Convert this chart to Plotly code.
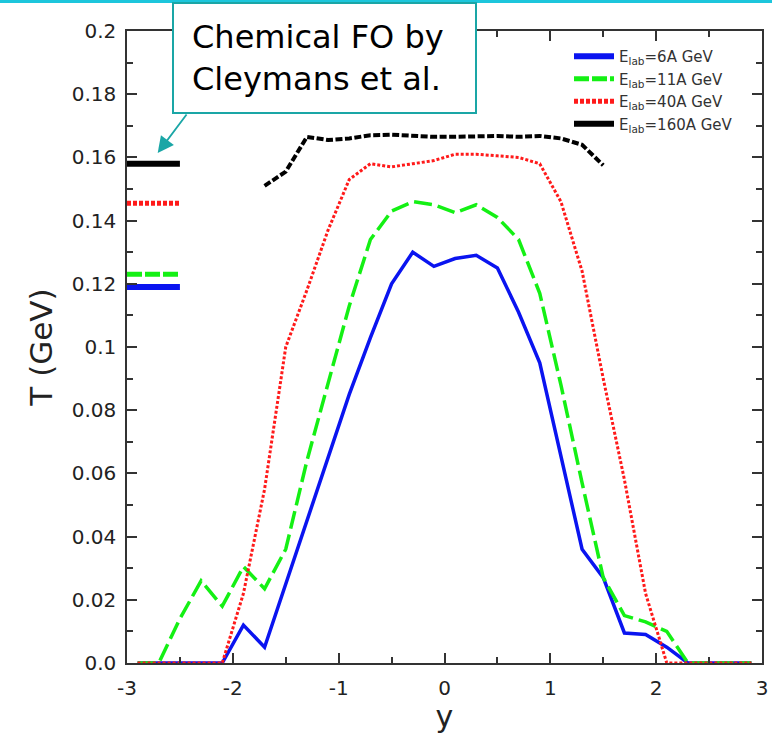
import plotly.graph_objects as go

# ---------------- data ----------------
y_grid = [-2.9, -2.7, -2.5, -2.3, -2.1, -1.9, -1.7, -1.5, -1.3, -1.1, -0.9, -0.7, -0.5, -0.3, -0.1,
          0.1, 0.3, 0.5, 0.7, 0.9, 1.1, 1.3, 1.5, 1.7, 1.9, 2.1, 2.3, 2.5, 2.7, 2.9]

T_6A = [0, 0, 0, 0, 0, 0.012, 0.005, 0.025, 0.045, 0.065, 0.085, 0.103, 0.120, 0.130, 0.1255,
        0.128, 0.129, 0.125, 0.111, 0.095, 0.066, 0.036, 0.027, 0.0095, 0.009, 0.005, 0, 0, 0, 0]

T_11A = [0, 0, 0.014, 0.026, 0.018, 0.0305, 0.0235, 0.036, 0.064, 0.088, 0.113, 0.134, 0.143, 0.146, 0.145,
         0.1425, 0.145, 0.141, 0.134, 0.117, 0.088, 0.057, 0.027, 0.015, 0.013, 0.010, 0, 0, 0, 0]

T_40A = [0, 0, 0, 0, 0, 0.022, 0.055, 0.100, 0.118, 0.137, 0.153, 0.158, 0.157, 0.158, 0.159,
         0.161, 0.161, 0.1605, 0.160, 0.158, 0.146, 0.124, 0.090, 0.058, 0.022, 0, 0, 0, 0, 0]

y_160A = [-1.7, -1.5, -1.3, -1.1, -0.9, -0.7, -0.5, -0.3, -0.1, 0.1, 0.3, 0.5, 0.7, 0.9, 1.1, 1.3, 1.5]
T_160A = [0.151, 0.1555, 0.1665, 0.1655, 0.166, 0.167, 0.1672, 0.1668, 0.1665, 0.1665, 0.1667, 0.1668,
          0.1665, 0.1668, 0.166, 0.164, 0.1575]

# chemical freeze-out (Cleymans et al.) marks
fo_y = [-3.0, -2.5]
fo_T = {"6A": 0.119, "11A": 0.123, "40A": 0.1455, "160A": 0.158}

legend_names = ["E<sub>lab</sub>=6A GeV", "E<sub>lab</sub>=11A GeV",
                "E<sub>lab</sub>=40A GeV", "E<sub>lab</sub>=160A GeV"]

x_ticks = [-3, -2, -1, 0, 1, 2, 3]
y_ticks = [0.0, 0.02, 0.04, 0.06, 0.08, 0.1, 0.12, 0.14, 0.16, 0.18, 0.2]
y_ticktext = ["0.0", "0.02", "0.04", "0.06", "0.08", "0.1", "0.12", "0.14", "0.16", "0.18", "0.2"]

# ---------------- layout geometry ----------------
W, H = 772, 734
L, R, T, B = 127, 10, 31, 71
PW, PH = W - L - R, H - T - B


def px_x(p):
    return (p - L) / PW


def px_y(p):
    return (H - B - p) / PH


BLUE, GREEN, RED, BLACK = "#0a14f0", "#14f014", "#ff1a1a", "#000000"
TEAL = "#1aa6a6"
CYAN = "#1cc6dc"

fig = go.Figure()

# curves (no legend)
fig.add_trace(go.Scatter(x=y_grid, y=T_6A, mode="lines", showlegend=False,
                         line=dict(color=BLUE, width=3.5)))
fig.add_trace(go.Scatter(x=y_grid, y=T_11A, mode="lines", showlegend=False,
                         line=dict(color=GREEN, width=3.5, dash="18px,6px")))
fig.add_trace(go.Scatter(x=y_grid, y=T_40A, mode="lines", showlegend=False,
                         line=dict(color=RED, width=3, dash="3px,2px")))
fig.add_trace(go.Scatter(x=y_160A, y=T_160A, mode="lines", showlegend=False,
                         line=dict(color=BLACK, width=4, dash="7px,2.5px")))

# freeze-out marks (carry the legend)
fig.add_trace(go.Scatter(x=fo_y, y=[fo_T["6A"]] * 2, mode="lines", name=legend_names[0],
                         line=dict(color=BLUE, width=6)))
fig.add_trace(go.Scatter(x=fo_y, y=[fo_T["11A"]] * 2, mode="lines", name=legend_names[1],
                         line=dict(color=GREEN, width=5, dash="15px,3px")))
fig.add_trace(go.Scatter(x=fo_y, y=[fo_T["40A"]] * 2, mode="lines", name=legend_names[2],
                         line=dict(color=RED, width=5, dash="4px,2px")))
fig.add_trace(go.Scatter(x=fo_y, y=[fo_T["160A"]] * 2, mode="lines", name=legend_names[3],
                         line=dict(color=BLACK, width=6)))

axis_common = dict(showline=True, linecolor="#333333", linewidth=1.5, mirror="allticks",
                   ticks="inside", ticklen=10, tickwidth=1.5, tickcolor="#333333",
                   showgrid=False, zeroline=False, automargin=False,
                   tickfont=dict(family="DejaVu Sans", size=20, color="#222222"))

fig.update_layout(
    width=W, height=H,
    margin=dict(l=L, r=R, t=T, b=B),
    paper_bgcolor="white", plot_bgcolor="white",
    xaxis=dict(range=[-3, 3], tickvals=x_ticks, ticktext=[str(v) for v in x_ticks],
               minor=dict(dtick=0.5, ticks="inside", ticklen=6, tickwidth=1.5, tickcolor="#333333"),
               title=dict(text="y", font=dict(family="DejaVu Sans", size=30, color="#222222"), standoff=8),
               ticklabelstandoff=6,
               **axis_common),
    yaxis=dict(range=[0, 0.2], tickvals=y_ticks, ticktext=y_ticktext,
               minor=dict(dtick=0.01, ticks="inside", ticklen=6, tickwidth=1.5, tickcolor="#333333"),
               title=dict(text="T (GeV)", font=dict(family="DejaVu Sans", size=31, color="#222222"), standoff=10),
               ticklabelstandoff=5,
               **axis_common),
    legend=dict(x=px_x(569), y=px_y(40), xanchor="left", yanchor="top", itemwidth=40,
                bgcolor="rgba(255,255,255,0)", borderwidth=0, tracegroupgap=0,
                font=dict(family="DejaVu Sans", size=15, color="#333333")),
    shapes=[
        # cyan slide rule at top
        dict(type="line", xref="paper", yref="paper", x0=px_x(0), x1=px_x(W), y0=px_y(1.5), y1=px_y(1.5),
             line=dict(color=CYAN, width=3), layer="above"),
        # callout box
        dict(type="rect", xref="paper", yref="paper", x0=px_x(173), x1=px_x(476), y0=px_y(3), y1=px_y(113),
             fillcolor="white", line=dict(color=TEAL, width=2), layer="above"),
    ],
    annotations=[
        dict(xref="paper", yref="paper", x=px_x(190), y=px_y(58), xanchor="left", yanchor="middle",
             text="Chemical FO by<br>Cleymans et al.", align="left", showarrow=False,
             font=dict(family="DejaVu Sans", size=32, color="black")),
        dict(xref="x", yref="y", x=-2.71, y=0.1614, ax=30, ay=-40, text="", showarrow=True,
             arrowhead=2, arrowsize=1.8, arrowwidth=1.8, arrowcolor=TEAL, standoff=0),
    ],
)

fig.write_html("out.html")
